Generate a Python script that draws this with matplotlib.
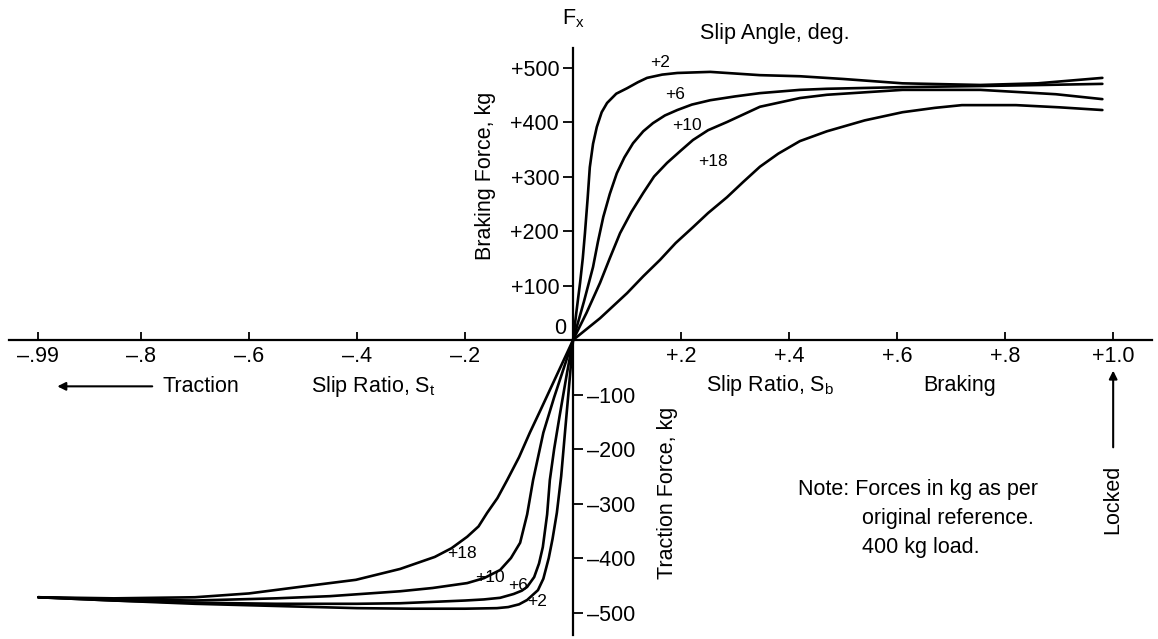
import numpy as np
from matplotlib import pyplot as plt

plt.rcParams['font.family'] = 'Liberation Sans'
plt.rcParams['mathtext.fontset'] = 'custom'
plt.rcParams['mathtext.rm'] = 'Liberation Sans'

# slip angle curves (slip ratio, force kg)
slip_angles = ['+2', '+6', '+10', '+18']

s_2 = [-0.99, -0.85, -0.7, -0.55, -0.4, -0.3, -0.2, -0.141, -0.12, -0.1, -0.085, -0.075, -0.065, -0.055,
       -0.045, -0.038, -0.03, -0.022, -0.015, -0.007, 0,
       0.006, 0.013, 0.018, 0.022, 0.027, 0.031, 0.037, 0.044, 0.053, 0.063, 0.08, 0.1, 0.12, 0.137,
       0.165, 0.193, 0.254, 0.346, 0.42, 0.5, 0.61, 0.754, 0.86, 0.98]
f_2 = [-472, -478, -484, -488, -492, -493, -493, -492, -490, -485, -477, -468, -459, -438,
       -400, -365, -317, -250, -170, -80, 0,
       50, 105, 150, 196, 260, 317, 360, 391, 418, 435, 452, 462, 473, 481,
       487, 490, 492, 486, 484, 479, 471, 468, 471, 481]

s_6 = [-0.99, -0.85, -0.7, -0.55, -0.4, -0.32, -0.2, -0.165, -0.135, -0.11, -0.095, -0.085, -0.072,
       -0.063, -0.056, -0.048, -0.043, -0.035, -0.025, -0.012, 0,
       0.02, 0.037, 0.046, 0.056, 0.068, 0.081, 0.095, 0.111, 0.13, 0.148, 0.17, 0.193, 0.22, 0.254,
       0.3, 0.346, 0.42, 0.47, 0.61, 0.754, 0.87, 0.98]
f_6 = [-472, -478, -482, -484, -484, -483, -478, -476, -473, -466, -460, -453, -435,
       -410, -380, -320, -257, -200, -140, -65, 0,
       70, 134, 180, 226, 268, 306, 335, 361, 383, 398, 412, 422, 432, 440,
       447, 453, 459, 461, 464, 466, 468, 470]

s_10 = [-0.99, -0.85, -0.7, -0.55, -0.45, -0.32, -0.26, -0.196, -0.165, -0.135, -0.115, -0.098,
        -0.085, -0.074, -0.055, -0.035, 0,
        0.025, 0.05, 0.068, 0.087, 0.108, 0.13, 0.15, 0.174, 0.2, 0.222, 0.25, 0.285, 0.346, 0.42,
        0.47, 0.61, 0.754, 0.894, 0.98]
f_10 = [-472, -476, -478, -474, -470, -461, -455, -446, -437, -422, -400, -372,
        -320, -257, -170, -105, 0,
        50, 105, 150, 196, 235, 270, 300, 325, 348, 367, 385, 400, 428, 444,
        450, 459, 459, 451, 442]

s_18 = [-0.99, -0.85, -0.7, -0.6, -0.506, -0.402, -0.32, -0.256, -0.225, -0.196, -0.175, -0.159,
        -0.14, -0.122, -0.1, -0.08, -0.06, -0.03, 0,
        0.05, 0.1, 0.13, 0.161, 0.19, 0.222, 0.25, 0.285, 0.315, 0.346, 0.38, 0.42, 0.47, 0.54,
        0.61, 0.67, 0.72, 0.82, 0.9, 0.98]
f_18 = [-472, -474, -472, -465, -453, -440, -420, -398, -382, -361, -342, -317,
        -290, -257, -215, -170, -128, -64, 0,
        40, 86, 117, 147, 178, 207, 233, 262, 290, 318, 342, 365, 383, 403,
        418, 426, 431, 431, 427, 422]

curves_s = [s_2, s_6, s_10, s_18]
curves_f = [f_2, f_6, f_10, f_18]

# curve label positions (upper and lower branches)
lab_top = [(0.161, 510), (0.189, 450), (0.211, 394), (0.259, 327)]
lab_bot = [(-0.067, -479), (-0.102, -451), (-0.154, -435), (-0.206, -391)]

xticks = [-0.99, -0.8, -0.6, -0.4, -0.2, 0.2, 0.4, 0.6, 0.8, 1.0]
xlabels = ['–.99', '–.8', '–.6', '–.4', '–.2', '+.2', '+.4', '+.6', '+.8', '+1.0']
yticks_pos = [100, 200, 300, 400, 500]
ylabels_pos = ['+100', '+200', '+300', '+400', '+500']
yticks_neg = [-100, -200, -300, -400, -500]
ylabels_neg = ['–100', '–200', '–300', '–400', '–500']

fs = 15.5

fig = plt.figure(figsize=(11.58, 6.39), dpi=100)
ax = fig.add_axes([0, 0, 1, 1])
xlim = (-1.061, 1.083)
ylim = (-548.6, 623.9)
ax.set_xlim(xlim)
ax.set_ylim(ylim)

for s, f in zip(curves_s, curves_f):
    ax.plot(s, f, color='black', lw=1.9, solid_joinstyle='round', solid_capstyle='round')

for lab, p in zip(slip_angles, lab_top):
    ax.text(p[0], p[1], lab, fontsize=12.5, ha='center', va='center')
for lab, p in zip(slip_angles, lab_bot):
    ax.text(p[0], p[1], lab, fontsize=12.5, ha='center', va='center')

# axes through the origin
for sp in ['top', 'right']:
    ax.spines[sp].set_visible(False)
ax.spines['left'].set_position(('data', 0))
ax.spines['bottom'].set_position(('data', 0))
ax.spines['left'].set_bounds(-541, 536)
ax.spines['bottom'].set_bounds(-1.044, 1.072)
ax.spines['left'].set_linewidth(1.6)
ax.spines['bottom'].set_linewidth(1.6)

ax.set_xticks(xticks)
ax.set_xticklabels(xlabels)
ax.tick_params(axis='x', direction='in', length=6, width=1.3, pad=4, labelsize=fs)
ax.set_yticks(yticks_pos)
ax.set_yticklabels(ylabels_pos)
ax.tick_params(axis='y', direction='out', length=7, width=1.3, pad=3, labelsize=fs)

ax2 = ax.twinx()
ax2.set_ylim(ylim)
for sp in ['top', 'left', 'bottom', 'right']:
    ax2.spines[sp].set_visible(False)
ax2.spines['right'].set_position(('data', 0))
ax2.set_yticks(yticks_neg)
ax2.set_yticklabels(ylabels_neg)
ax2.tick_params(axis='y', direction='out', length=7, width=1.3, pad=3, labelsize=fs)

ax.text(-0.012, 22, '0', fontsize=fs, ha='right', va='center')
ax.text(0, 590, r'F$_\mathrm{x}$', fontsize=fs, ha='center', va='center')
ax.text(0.374, 563, 'Slip Angle, deg.', fontsize=fs, ha='center', va='center')
ax.text(-0.163, 301, 'Braking Force, kg', fontsize=fs, rotation=90, ha='center', va='center')
ax.text(0.175, -280, 'Traction Force, kg', fontsize=fs, rotation=90, ha='center', va='center')
ax.text(-0.37, -85, r'Slip Ratio, S$_\mathrm{t}$', fontsize=fs, ha='center', va='center')
ax.text(-0.69, -85, 'Traction', fontsize=fs, ha='center', va='center')
ax.text(0.365, -83, r'Slip Ratio, S$_\mathrm{b}$', fontsize=fs, ha='center', va='center')
ax.text(0.715, -83, 'Braking', fontsize=fs, ha='center', va='center')
ax.annotate('', xy=(-0.96, -85), xytext=(-0.774, -85),
            arrowprops=dict(arrowstyle='-|>', lw=1.5, color='black', mutation_scale=12))
ax.annotate('', xy=(1.0, -51), xytext=(1.0, -202),
            arrowprops=dict(arrowstyle='-|>', lw=1.5, color='black', mutation_scale=12))
ax.text(1.0, -292, 'Locked', fontsize=fs, rotation=90, ha='center', va='center')

ax.text(0.417, -275, 'Note: Forces in kg as per', fontsize=fs, ha='left', va='center')
ax.text(0.535, -327, 'original reference.', fontsize=fs, ha='left', va='center')
ax.text(0.535, -380, '400 kg load.', fontsize=fs, ha='left', va='center')

fig.savefig('out.png', dpi=100)
